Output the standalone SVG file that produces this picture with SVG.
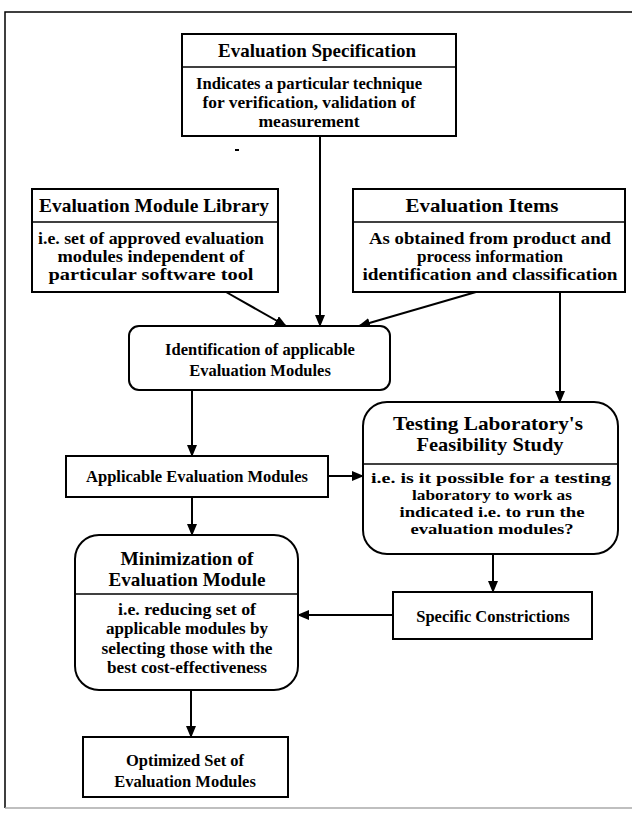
<svg xmlns="http://www.w3.org/2000/svg" width="632" height="813" viewBox="0 0 632 813">
<defs>
<marker id="arr" markerUnits="userSpaceOnUse" markerWidth="12" markerHeight="10" refX="11" refY="5" orient="auto">
<path d="M0,0 L12,5 L0,10 z" fill="#000"/>
</marker>
<style>
.box{fill:#fff;stroke:#000;stroke-width:2}
.div{stroke:#000;stroke-width:1.5}
text{font-family:"Liberation Serif","Times New Roman",serif;font-weight:bold;text-anchor:middle;fill:#000}
.c{fill:none;stroke:#000;stroke-width:2;marker-end:url(#arr)}
</style>
</defs>
<rect width="632" height="813" fill="#fff"/>
<g id="frame">
<path d="M634,12 H5 V808" fill="none" stroke="#000" stroke-width="1.5"/>
<path d="M5,808 H634" fill="none" stroke="#aaa" stroke-width="1.5"/>
<path d="M235,150 H239" stroke="#000" stroke-width="2"/>
</g>
<g id="connectors">
<path class="c" d="M320,136 V326"/>
<path class="c" d="M226,292 L286,326"/>
<path class="c" d="M476,292 L359,326"/>
<path class="c" d="M560,292 V402"/>
<path class="c" d="M192,390 V456"/>
<path class="c" d="M328,476 H363"/>
<path class="c" d="M192,497 V535"/>
<path class="c" d="M493,554 V592"/>
<path class="c" d="M393,615 H298"/>
<path class="c" d="M191,690 V737"/>
</g>
<g id="evaluation-specification">
<rect class="box" x="182" y="34" width="274" height="102"/>
<line class="div" x1="182" y1="67" x2="456" y2="67"/>
<text x="317" y="57" font-size="19" textLength="198" lengthAdjust="spacingAndGlyphs">Evaluation Specification</text>
<text x="309" y="89" font-size="16" textLength="226" lengthAdjust="spacingAndGlyphs">Indicates a particular technique</text>
<text x="309" y="108" font-size="16" textLength="213" lengthAdjust="spacingAndGlyphs">for verification, validation of</text>
<text x="309" y="127" font-size="16" textLength="101" lengthAdjust="spacingAndGlyphs">measurement</text>
</g>
<g id="evaluation-module-library">
<rect class="box" x="32" y="189" width="246" height="103"/>
<line class="div" x1="32" y1="222" x2="278" y2="222"/>
<text x="154" y="212" font-size="19" textLength="230" lengthAdjust="spacingAndGlyphs">Evaluation Module Library</text>
<text x="151" y="244" font-size="16" textLength="226" lengthAdjust="spacingAndGlyphs">i.e. set of approved evaluation</text>
<text x="151" y="262" font-size="16" textLength="187" lengthAdjust="spacingAndGlyphs">modules independent of</text>
<text x="151" y="280" font-size="16" textLength="205" lengthAdjust="spacingAndGlyphs">particular software tool</text>
</g>
<g id="evaluation-items">
<rect class="box" x="353" y="189" width="272" height="103"/>
<line class="div" x1="353" y1="222" x2="625" y2="222"/>
<text x="482" y="212" font-size="19" textLength="153" lengthAdjust="spacingAndGlyphs">Evaluation Items</text>
<text x="490" y="244" font-size="16" textLength="242" lengthAdjust="spacingAndGlyphs">As obtained from product and</text>
<text x="490" y="262" font-size="16" textLength="146" lengthAdjust="spacingAndGlyphs">process information</text>
<text x="490" y="280" font-size="16" textLength="255" lengthAdjust="spacingAndGlyphs">identification and classification</text>
</g>
<g id="identification">
<rect class="box" x="129" y="326" width="261" height="64" rx="10"/>
<text x="260" y="354.5" font-size="16.5">Identification of applicable</text>
<text x="260" y="375.5" font-size="16.5">Evaluation Modules</text>
</g>
<g id="applicable-modules">
<rect class="box" x="66" y="456" width="262" height="41"/>
<text x="197" y="482" font-size="16.5">Applicable Evaluation Modules</text>
</g>
<g id="testing-laboratory">
<rect class="box" x="363" y="402" width="255" height="152" rx="24"/>
<line class="div" x1="363" y1="464" x2="618" y2="464"/>
<text x="488" y="430" font-size="19" textLength="190" lengthAdjust="spacingAndGlyphs">Testing Laboratory's</text>
<text x="490" y="451" font-size="19" textLength="147" lengthAdjust="spacingAndGlyphs">Feasibility Study</text>
<text x="491" y="483" font-size="15.5" textLength="240" lengthAdjust="spacingAndGlyphs">i.e. is it possible for a testing</text>
<text x="492" y="500" font-size="15.5" textLength="160" lengthAdjust="spacingAndGlyphs">laboratory to work as</text>
<text x="492" y="517" font-size="15.5" textLength="185" lengthAdjust="spacingAndGlyphs">indicated i.e. to run the</text>
<text x="492" y="534" font-size="15.5" textLength="163" lengthAdjust="spacingAndGlyphs">evaluation modules?</text>
</g>
<g id="minimization">
<rect class="box" x="75" y="535" width="223" height="155" rx="24"/>
<line class="div" x1="75" y1="594" x2="298" y2="594"/>
<text x="187" y="565" font-size="19" textLength="133" lengthAdjust="spacingAndGlyphs">Minimization of</text>
<text x="187" y="586" font-size="19" textLength="157" lengthAdjust="spacingAndGlyphs">Evaluation Module</text>
<text x="187" y="615" font-size="16" textLength="138" lengthAdjust="spacingAndGlyphs">i.e. reducing set of</text>
<text x="187" y="634" font-size="16" textLength="162" lengthAdjust="spacingAndGlyphs">applicable modules by</text>
<text x="187" y="654" font-size="16" textLength="171" lengthAdjust="spacingAndGlyphs">selecting those with the</text>
<text x="187" y="673" font-size="16" textLength="160" lengthAdjust="spacingAndGlyphs">best cost-effectiveness</text>
</g>
<g id="specific-constrictions">
<rect class="box" x="393" y="592" width="199" height="47"/>
<text x="493" y="621.5" font-size="16.5">Specific Constrictions</text>
</g>
<g id="optimized-set">
<rect class="box" x="83" y="737" width="205" height="60"/>
<text x="185" y="765.5" font-size="16.5">Optimized Set of</text>
<text x="185" y="786.5" font-size="16.5">Evaluation Modules</text>
</g>
</svg>
